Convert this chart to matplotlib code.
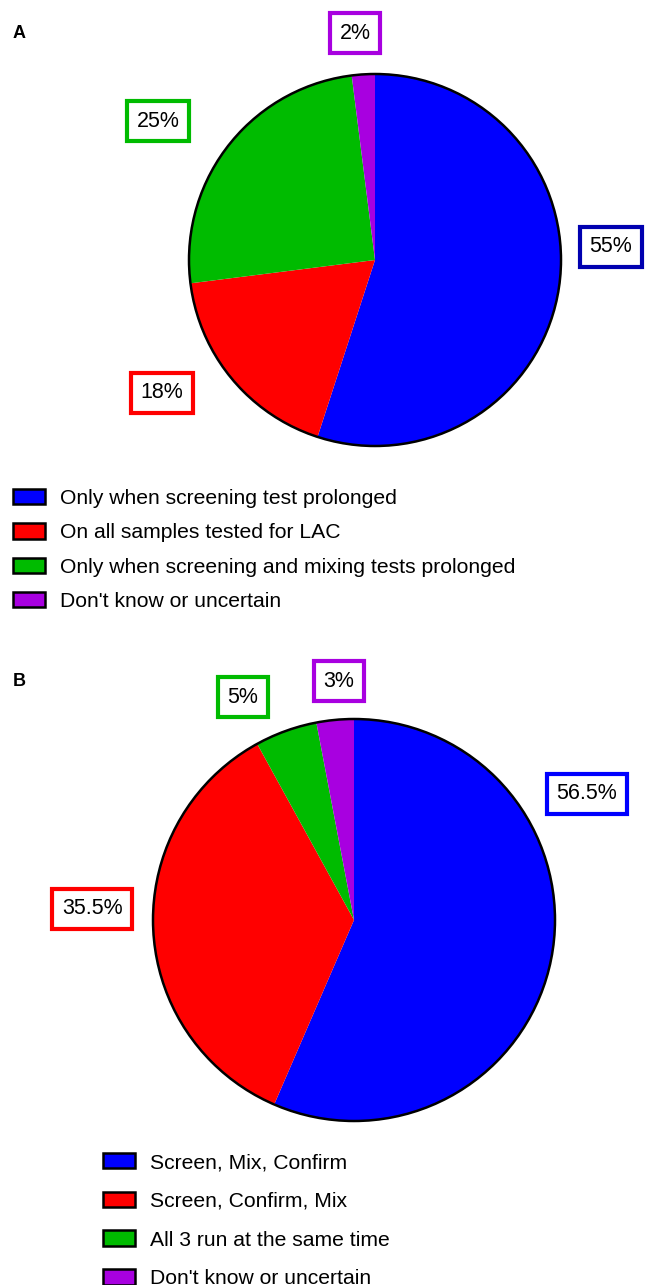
import matplotlib
matplotlib.use("Agg")
import matplotlib.pyplot as plt
from matplotlib.patches import Patch, Circle

plt.rcParams["font.family"] = ["Liberation Sans", "DejaVu Sans"]

# data
labels_a = ["Only when screening test prolonged", "On all samples tested for LAC",
            "Only when screening and mixing tests prolonged", "Don't know or uncertain"]
values_a = [55, 18, 25, 2]
text_a = ["55%", "18%", "25%", "2%"]

labels_b = ["Screen, Mix, Confirm", "Screen, Confirm, Mix",
            "All 3 run at the same time", "Don't know or uncertain"]
values_b = [56.5, 35.5, 5, 3]
text_b = ["56.5%", "35.5%", "5%", "3%"]

colors = ["#0000ff", "#ff0000", "#00bb00", "#a800e0"]
box_edges_a = ["#0000b0", "#ff0000", "#00bb00", "#a800e0"]
box_edges_b = ["#0000ff", "#ff0000", "#00bb00", "#a800e0"]

W, H = 647, 1285
fig = plt.figure(figsize=(W / 100, H / 100), dpi=100)


def pie_axes(cx, cy, r):
    ax = fig.add_axes([(cx - r) / W, 1 - (cy + r) / H, 2 * r / W, 2 * r / H])
    return ax


def draw_pie(ax, values, texts, edges, label_pos):
    ax.pie(values, colors=colors, startangle=90, counterclock=False, radius=1,
           wedgeprops=dict(linewidth=0))
    ax.set_xlim(-1, 1)
    ax.set_ylim(-1, 1)
    ax.set_aspect("equal")
    ax.axis("off")
    ax.add_patch(Circle((0, 0), 1, fill=False, edgecolor="black", linewidth=1.8,
                        clip_on=False))
    for t, ec, (x, y) in zip(texts, edges, label_pos):
        ax.text(x, y, t, ha="center", va="center", fontsize=15.5, clip_on=False,
                bbox=dict(boxstyle="square,pad=0.45", facecolor="white",
                          edgecolor=ec, linewidth=3))


ax_a = pie_axes(375, 260, 186)
draw_pie(ax_a, values_a, text_a, box_edges_a,
         [(1.269, 0.07), (-1.145, -0.715), (-1.167, 0.747), (-0.108, 1.22)])

ax_b = pie_axes(354, 920, 201)
draw_pie(ax_b, values_b, text_b, box_edges_b,
         [(1.159, 0.627), (-1.303, 0.055), (-0.552, 1.109), (-0.075, 1.189)])

fig.text(13 / W, 1 - 33 / H, "A", fontsize=13, fontweight="bold", va="center")
fig.text(13 / W, 1 - 681 / H, "B", fontsize=13, fontweight="bold", va="center")


def legend(labels, x, y, spacing):
    handles = [Patch(facecolor=c, edgecolor="black", linewidth=1.8) for c in colors]
    fig.legend(handles, labels, loc="upper left", bbox_to_anchor=(x / W, 1 - y / H),
               frameon=False, fontsize=15.2, handlelength=1.5, handleheight=0.75,
               handletextpad=0.75, labelspacing=spacing, borderaxespad=0, borderpad=0)


legend(labels_a, 13, 489, 0.72)
legend(labels_b, 103, 1153, 0.93)

fig.savefig("out.png", dpi=100)
